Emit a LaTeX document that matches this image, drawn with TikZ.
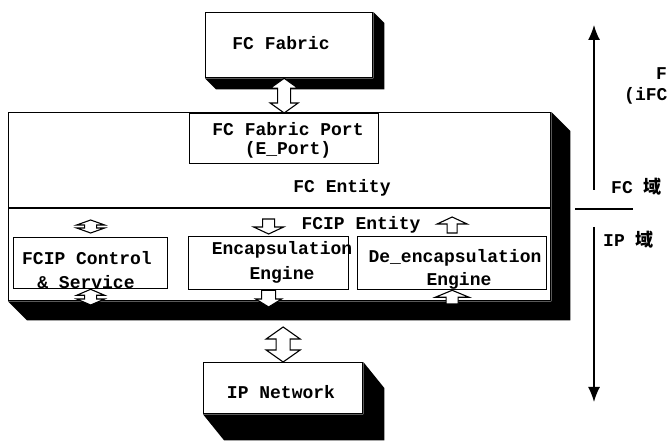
\documentclass[tikz,border=0pt]{standalone}
\usepackage{fontspec}
\setmonofont{Liberation Mono}
\newfontfamily\cjk{Noto Sans CJK SC}
\usetikzlibrary{calc,arrows.meta}
\newcommand\blkdbl[5]{%
  \draw[blk] let \p1=#1, \p2=#2 in
   (\x1,\y1) -- (\x1+#3pt,\y1-#5pt) -- (\x1+#4pt,\y1-#5pt) -- (\x1+#4pt,\y2+#5pt) -- (\x1+#3pt,\y2+#5pt)
   -- (\x1,\y2) -- (\x1-#3pt,\y2+#5pt) -- (\x1-#4pt,\y2+#5pt) -- (\x1-#4pt,\y1-#5pt) -- (\x1-#3pt,\y1-#5pt) -- cycle;}
\newcommand\blkup[5]{%
  \draw[blk] let \p1=#1, \p2=#2 in
   (\x1,\y1) -- (\x1+#3pt,\y1-#5pt) -- (\x1+#4pt,\y1-#5pt) -- (\x1+#4pt,\y2) -- (\x1-#4pt,\y2)
   -- (\x1-#4pt,\y1-#5pt) -- (\x1-#3pt,\y1-#5pt) -- cycle;}
\newcommand\blkdown[5]{%
  \draw[blk] let \p1=#1, \p2=#2 in
   (\x1-#4pt,\y1) -- (\x1+#4pt,\y1) -- (\x1+#4pt,\y2+#5pt) -- (\x1+#3pt,\y2+#5pt) -- (\x1,\y2)
   -- (\x1-#3pt,\y2+#5pt) -- (\x1-#4pt,\y2+#5pt) -- cycle;}
\newcommand\boxshadow[3]{%
  \fill[black] (#1.north east) -- ++(#2,#3) -- ($(#1.south east)+(#2,#3)$) -- ($(#1.south west)+(#2,#3)$)
   -- (#1.south west) -- (#1.south east) -- cycle;}
\begin{document}
\begin{tikzpicture}[x=1pt,y=-1pt,
  font=\ttfamily\bfseries\fontsize{18}{21}\selectfont,
  box/.style={draw,line width=1.3pt,fill=white,inner sep=0pt,anchor=north west},
  blk/.style={draw,line width=1.1pt,fill=white,line join=miter},
  lbl/.style={inner sep=0pt},
  axis/.style={line width=1.4pt},
  axtip/.style={-{Latex[length=15pt,width=12pt]}}]
\useasboundingbox (0,0) rectangle (667,446);

% FC Fabric
\node[box,minimum width=167pt,minimum height=65pt] (fab) at (205,12) {};
\boxshadow{fab}{11}{11}
\node[lbl] (fabt) at (281,43) {FC Fabric};

% FC Entity (main box)
\node[box,minimum width=542pt,minimum height=188pt] (ent) at (8,112) {};
\boxshadow{ent}{19}{19}
\coordinate (sepL) at (8,208);
\coordinate (sepR) at (550,208);
\draw[line width=1.3pt] (sepL) -- (sepR);

% FC Fabric Port
\node[box,minimum width=189pt,minimum height=50pt] (port) at (189,113) {};
\node[lbl] (portt1) at (288,129) {FC Fabric Port};
\node[lbl] (portt2) at (288,150) {(E\_Port)};
\node[lbl] (entt) at (342,188) {FC Entity};
\node[lbl] (fcipt) at (361,225) {FCIP Entity};

% sub boxes
\node[box,minimum width=154pt,minimum height=51pt] (ctl) at (13,237) {};
\node[box,minimum width=160pt,minimum height=53pt] (enc) at (188,236) {};
\node[box,minimum width=189pt,minimum height=53pt] (dec) at (357,236) {};
\node[lbl] (ctlt1) at (87,258) {FCIP Control};
\node[lbl] (ctlt2) at (86,282) {\& Service};
\node[lbl] (enct1) at (282,250) {Encapsulation};
\node[lbl] (enct2) at (282,275) {Engine};
\node[lbl] (dect1) at (455,258) {De\_encapsulation};
\node[lbl] (dect2) at (459,281) {Engine};

% IP Network
\node[box,minimum width=159pt,minimum height=51pt] (ipn) at (203,362) {};
\boxshadow{ipn}{21}{26}
\node[lbl] (ipnt) at (281,392) {IP Network};

% block arrows
\blkdbl{(port.north |- fab.south)}{(port.north)}{14}{6.5}{10}
\blkdbl{(ipn.north |- 0,327)}{(ipn.north)}{17}{7}{12}
\blkdbl{(ctl.north |- 0,220)}{(ctl.north |- 0,233)}{14}{6}{5}
\blkdbl{(ctl.south)}{(ctl.south |- 0,305)}{14}{6}{6}
\blkdown{(enc.north |- 0,219)}{(enc.north |- 0,234)}{15}{6}{7}
\blkdown{(enc.south)}{(enc.south |- 0,307)}{13}{7}{8}
\blkup{(dec.north |- 0,217)}{(dec.north |- 0,233)}{15}{5}{7}
\blkup{(dec.south)}{(dec.south |- 0,304)}{17}{6}{7}

% domain axis
\coordinate (axU) at (594,25);
\coordinate (axM1) at (594,190);
\coordinate (axM2) at (594,227);
\coordinate (axD) at (594,402);
\coordinate (hdL) at (575,209);
\coordinate (hdR) at (633,209);
\draw[axis,axtip] (axM1) -- (axU);
\draw[axis,axtip] (axM2) -- (axD);
\draw[line width=1.3pt] (hdL) -- (hdR);
\node[lbl,anchor=west] (fcd) at (611,187) {FC {\cjk\bfseries 域}};
\node[lbl,anchor=west] (ipd) at (603,240) {IP {\cjk\bfseries 域}};
\node[lbl,anchor=west] (rt1) at (656,74) {F};
\node[lbl,anchor=west] (rt2) at (624,96) {(iFC};
\end{tikzpicture}
\end{document}
